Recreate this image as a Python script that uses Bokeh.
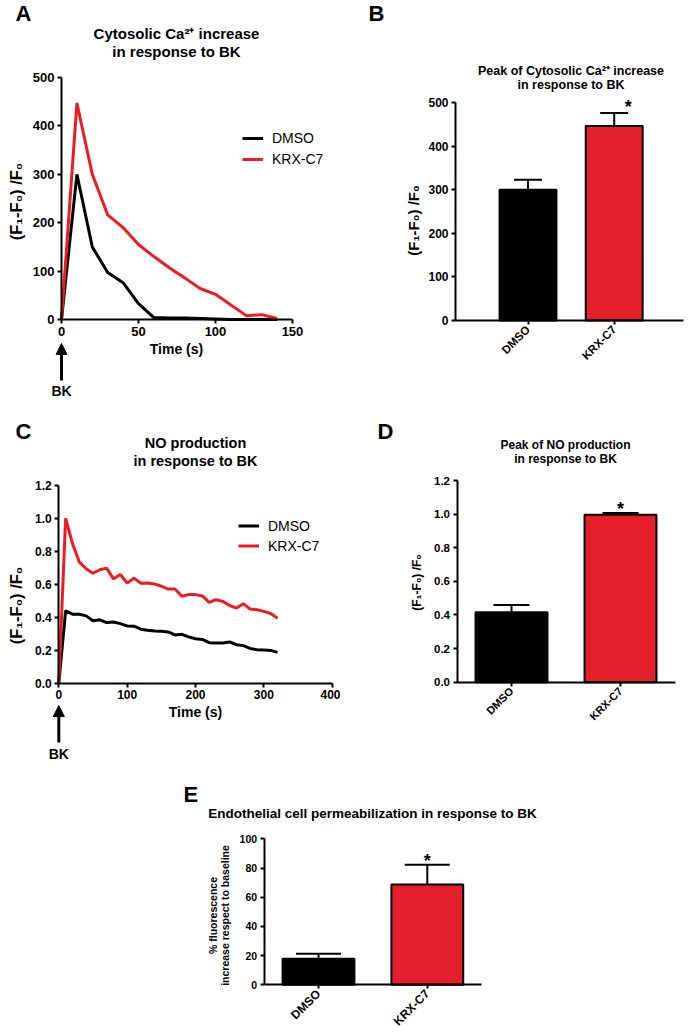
import math
from bokeh.plotting import figure
from bokeh.models import (Range1d, FixedTicker, NumeralTickFormatter, Label,
                          Arrow, NormalHead, Whisker, TeeHead, ColumnDataSource)
from bokeh.layouts import column, row
from bokeh.embed import file_html
from bokeh.resources import INLINE
from bokeh.core.properties import value

# ---------------- data ----------------
groups = ["DMSO", "KRX-C7"]

ca_time = [0, 10, 20, 30, 40, 50, 60, 70, 80, 90, 100, 110, 120, 130, 140]
ca_dmso = [0, 300, 150, 97, 76, 33, 4, 3, 3, 2, 1, 0, 0, 0, 0]
ca_krx = [0, 447, 300, 216, 190, 155, 130, 107, 86, 64, 52, 30, 8, 10, 2]

no_time = [0, 10, 20, 30, 40, 50, 60, 70, 80, 90, 100, 110, 120, 130, 140, 150, 160,
           170, 180, 190, 200, 210, 220, 230, 240, 250, 260, 270, 280, 290, 300, 310, 320]
no_dmso = [0, 0.439, 0.418, 0.418, 0.408, 0.378, 0.384, 0.367, 0.371, 0.361, 0.347, 0.345,
           0.327, 0.320, 0.316, 0.314, 0.310, 0.292, 0.296, 0.280, 0.269, 0.265, 0.245,
           0.243, 0.243, 0.249, 0.233, 0.227, 0.210, 0.202, 0.200, 0.198, 0.186]
no_krx = [0, 1.0, 0.847, 0.735, 0.694, 0.667, 0.688, 0.698, 0.633, 0.659, 0.608, 0.637,
          0.606, 0.608, 0.602, 0.588, 0.571, 0.571, 0.527, 0.537, 0.537, 0.529, 0.490,
          0.506, 0.496, 0.471, 0.455, 0.482, 0.449, 0.445, 0.435, 0.422, 0.394]

ca_peak = [300, 446]
ca_peak_err = [23, 30]
no_peak = [0.416, 0.996]
no_peak_err = [0.044, 0.011]
perm = [17.8, 68.7]
perm_err = [3.4, 13.5]

ca_yticks = [0, 100, 200, 300, 400, 500]
ca_xticks = [0, 50, 100, 150]
no_yticks = [0, 0.2, 0.4, 0.6, 0.8, 1.0, 1.2]
no_xticks = [0, 100, 200, 300, 400]
perm_yticks = [0, 20, 40, 60, 80, 100]

bk_time = 0

# ---------------- style / layout ----------------
FONT = "Liberation Sans"
RED_LINE = "#ed1c24"
RED_BAR = "#e3202a"
BAR_COLORS = ["black", RED_BAR]
YLAB = "(F\u2081-F\u2080) /F\u2080"
cat_x = list(range(len(groups)))
TEXT_NUDGE = 2  # compensate vertical bias of the svg "middle" baseline


class Panel:
    """A figure whose frame covers the whole figure; data mapped to page pixels."""

    def __init__(self, left, top, w, h, xd, xp, yd, yp):
        self.left, self.top, self.w, self.h = left, top, w, h
        self.xs = (xp[1] - xp[0]) / (xd[1] - xd[0])
        self.ys = (yp[1] - yp[0]) / (yd[1] - yd[0])
        self.xd0, self.xp0, self.yd0, self.yp0 = xd[0], xp[0], yd[0], yp[0]
        x_start = self.xdata(left)
        x_end = self.xdata(left + w)
        y_start = self.ydata(top + h)
        y_end = self.ydata(top)
        p = figure(width=w, height=h, x_range=Range1d(x_start, x_end),
                   y_range=Range1d(y_start, y_end), output_backend="svg",
                   toolbar_location=None, min_border=0, min_border_left=0,
                   min_border_right=0, min_border_top=0, min_border_bottom=0)
        p.grid.visible = False
        p.outline_line_color = None
        p.background_fill_color = "white"
        p.border_fill_color = "white"
        for ax in p.axis:
            ax.axis_line_width = 2
            ax.axis_line_color = "black"
            ax.major_tick_line_width = 2
            ax.major_tick_line_color = "black"
            ax.major_tick_in = 0
            ax.major_tick_out = 4
            ax.minor_tick_line_color = None
            ax.major_label_text_font = FONT
            ax.major_label_text_font_style = "bold"
            ax.major_label_text_color = "black"
            ax.major_label_standoff = 3
        self.p = p

    def xdata(self, px):
        return self.xd0 + (px - self.xp0) / self.xs

    def ydata(self, py):
        return self.yd0 + (py - self.yp0) / self.ys

    def axes(self, xb, yb, xticks, yticks, xsize, ysize):
        p = self.p
        p.xaxis.fixed_location = yb[0]
        p.xaxis.bounds = xb
        p.yaxis.fixed_location = xb[0]
        p.yaxis.bounds = yb
        p.xaxis.ticker = FixedTicker(ticks=xticks)
        p.yaxis.ticker = FixedTicker(ticks=yticks)
        p.xaxis.major_label_text_font_size = xsize
        p.yaxis.major_label_text_font_size = ysize

    def text(self, img_x, img_y, text, size, bold=True, align="center", angle=0):
        if angle == 0:
            img_y -= TEXT_NUDGE
        else:
            img_x -= TEXT_NUDGE
        self.p.add_layout(Label(x=img_x - self.left, y=self.top + self.h - img_y,
                                x_units="screen", y_units="screen", text=text,
                                text_font=FONT, text_font_style="bold" if bold else "normal",
                                text_font_size=size, text_align=align,
                                text_baseline="middle", text_color="black", angle=angle))

    def bk(self, tip_py, tail_py, text_py):
        self.p.add_layout(Arrow(end=NormalHead(size=11, fill_color="black",
                                               line_color="black", line_width=1),
                                x_start=bk_time, y_start=self.ydata(tail_py),
                                x_end=bk_time, y_end=self.ydata(tip_py),
                                line_width=3, line_color="black"))
        self.p.add_layout(Label(x=bk_time, y=self.ydata(text_py - TEXT_NUDGE), text="BK",
                                text_font=FONT, text_font_style="bold", text_font_size="14px",
                                text_align="center", text_baseline="middle",
                                text_color="black"))

    def legend(self, img_x, img_y_bottom, glyph_h):
        lg = self.p.legend[0]
        lg.location = (img_x - self.left, self.top + self.h - img_y_bottom)
        lg.border_line_color = None
        lg.background_fill_alpha = 0
        lg.padding = 0
        lg.margin = 0
        lg.spacing = 1
        lg.glyph_width = 21
        lg.glyph_height = glyph_h
        lg.label_height = glyph_h
        lg.label_standoff = 9
        lg.label_text_font = FONT
        lg.label_text_font_size = "14px"
        lg.label_text_color = "black"
        lg.label_text_baseline = "middle"

    def bars(self, vals, errs, cap):
        src = ColumnDataSource(dict(x=cat_x, val=vals, color=BAR_COLORS,
                                    upper=[v + e for v, e in zip(vals, errs)]))
        self.p.vbar(x="x", top="val", width=0.66, source=src, fill_color="color",
                    line_color="black", line_width=2)
        self.p.add_layout(Whisker(source=src, base="x", upper="upper", lower="val",
                                  dimension="height", line_width=2, line_color="black",
                                  lower_head=None,
                                  upper_head=TeeHead(size=cap, line_width=2, line_color="black")))
        self.p.xaxis.major_label_overrides = {i: g for i, g in zip(cat_x, groups)}
        self.p.xaxis.major_label_orientation = math.pi / 4

    def star(self, vals, errs, x_off, y_off):
        self.p.text(x=[cat_x[1]], y=[vals[1] + errs[1]], text=["*"], x_offset=x_off,
                    y_offset=y_off, text_align="center", text_baseline="middle",
                    text_font=value(FONT), text_font_style="bold", text_font_size="18px",
                    text_color="black")


# ---------------- Panel A ----------------
A = Panel(0, 0, 340, 410, (0, 150), (61, 292), (0, 500), (319, 77))
A.p.line(ca_time, ca_dmso, line_color="black", line_width=3, legend_label="DMSO")
A.p.line(ca_time, ca_krx, line_color=RED_LINE, line_width=3, legend_label="KRX-C7")
A.axes((0, 150), (0, 500), ca_xticks, ca_yticks, "13px", "13px")
A.legend(242, 169, 20)
A.text(15, 15, "A", "22px", align="left")
A.text(176, 35, "Cytosolic Ca\u00b2\u207a increase", "15px")
A.text(176, 53, "in response to BK", "15px")
A.text(17, 201, YLAB, "16.5px", angle=math.pi / 2)
A.text(176, 350, "Time (s)", "14px")
A.bk(343, 380, 392)

# ---------------- Panel B ----------------
B = Panel(340, 0, 348, 410, (0, 1), (527.5, 613.7), (0, 500), (320, 102))
B.bars(ca_peak, ca_peak_err, 28)
B.axes((B.xdata(455), B.xdata(683)), (0, 500), cat_x, ca_yticks, "11.5px", "12px")
B.star(ca_peak, ca_peak_err, 14, -6)
B.text(368, 15, "B", "22px", align="left")
B.text(570.5, 72, "Peak of Cytosolic Ca\u00b2\u207a increase", "12.5px")
B.text(570.5, 86, "in response to BK", "12.5px")
B.text(415, 220, YLAB, "15px", angle=math.pi / 2)

# ---------------- Panel C ----------------
C = Panel(0, 410, 340, 365, (0, 400), (58.3, 331.7), (0, 1.2), (682.5, 485))
C.p.line(no_time, no_dmso, line_color="black", line_width=3, legend_label="DMSO")
C.p.line(no_time, no_krx, line_color=RED_LINE, line_width=3, legend_label="KRX-C7")
C.axes((0, 400), (0, 1.2), no_xticks, no_yticks, "12px", "12px")
C.p.yaxis.formatter = NumeralTickFormatter(format="0.0")
C.legend(238, 555, 19)
C.text(15, 433, "C", "22px", align="left")
C.text(195, 444, "NO production", "14.5px")
C.text(195, 462, "in response to BK", "14.5px")
C.text(17, 605, YLAB, "16.5px", angle=math.pi / 2)
C.text(195, 713, "Time (s)", "14px")
C.bk(705, 742, 755)

# ---------------- Panel D ----------------
D = Panel(340, 410, 348, 365, (0, 1), (511, 620), (0, 1.2), (681.7, 480))
D.bars(no_peak, no_peak_err, 36)
D.axes((-0.5, 1.5), (0, 1.2), cat_x, no_yticks, "11px", "11.5px")
D.p.yaxis.formatter = NumeralTickFormatter(format="0.0")
D.star(no_peak, no_peak_err, 0, -4)
D.text(377, 432.5, "D", "22px", align="left")
D.text(565, 446, "Peak of NO production", "12px")
D.text(565, 460, "in response to BK", "12px")
D.text(418, 582, YLAB, "12px", angle=math.pi / 2)

# ---------------- Panel E ----------------
E = Panel(0, 775, 688, 258, (0, 1), (318, 426.8), (0, 100), (984.3, 838.3))
E.bars(perm, perm_err, 45)
E.axes((-0.5, 1.5), (0, 100), cat_x, perm_yticks, "12px", "10.5px")
E.star(perm, perm_err, 0, -4)
E.text(183, 795.5, "E", "22px", align="left")
E.text(372, 815, "Endothelial cell permeabilization in response to BK", "13.5px")
E.text(214, 915, "% fluorescence", "10.5px", angle=math.pi / 2)
E.text(226.5, 915, "increase respect to baseline", "10.5px", angle=math.pi / 2)

layout = column(row(A.p, B.p), row(C.p, D.p), row(E.p))
open("out.html", "w").write(file_html(layout, INLINE))
